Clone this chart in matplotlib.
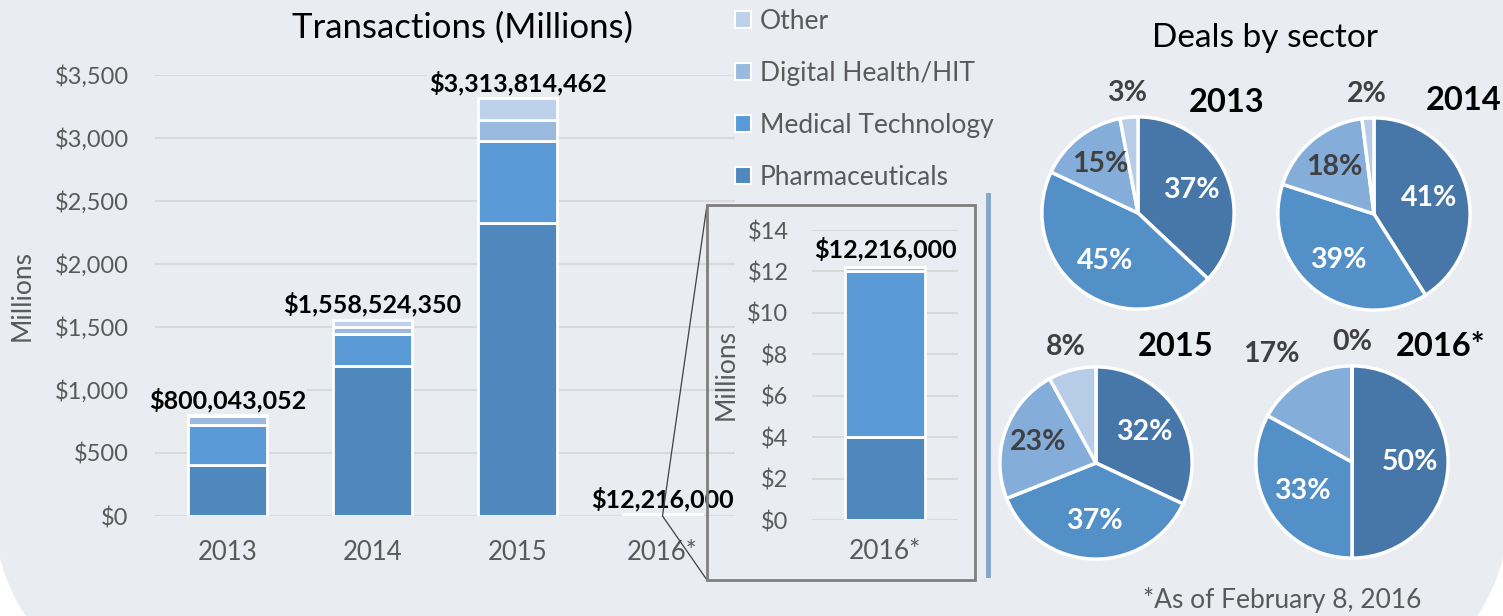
import numpy as np
import matplotlib
matplotlib.use('Agg')
import matplotlib.pyplot as plt
from matplotlib.patches import FancyBboxPatch, Rectangle, ConnectionPatch

plt.rcParams['font.family'] = ['Lato', 'DejaVu Sans']

# ----------------------------------------------------------------
# Data
# ----------------------------------------------------------------
years = ['2013', '2014', '2015', '2016*']
sectors = ['Pharmaceuticals', 'Medical Technology', 'Digital Health/HIT', 'Other']
# transaction value in $ millions, per sector
pharma = [405, 1190, 2325, 4.0]
medtech = [320, 258, 648, 8.0]
digital = [65, 55, 173, 0.216]
other = [10, 55.5, 167.8, 0.0]
totals = [800043052, 1558524350, 3313814462, 12216000]

# deals by sector (%) per year: pharma, medtech, digital, other
pie_years = ['2013', '2014', '2015', '2016*']
pie_2013 = [37, 45, 15, 3]
pie_2014 = [41, 39, 18, 2]
pie_2015 = [32, 37, 23, 8]
pie_2016 = [50, 33, 17, 0]

# ----------------------------------------------------------------
# Style
# ----------------------------------------------------------------
BG = '#E9ECF1'
GRID = '#D9D9D9'
TICK = '#595959'
BAR_COLORS = ['#4F88BD', '#5A9AD6', '#99B9DF', '#BDD1EB']
PIE_COLORS = ['#4677A8', '#5390C8', '#85ADDA', '#B7CCE6']

W, H = 1503, 616
fig = plt.figure(figsize=(W / 100, H / 100), dpi=100, facecolor='white')


def fx(px):
    return px / W


def fy(py):
    # py measured from the top of the image
    return 1 - py / H


# rounded background panel
bg = FancyBboxPatch((fx(-10), fy(694)), fx(1523), fy(-400) - fy(694),
                    boxstyle='round,pad=0,rounding_size=0.146',
                    transform=fig.transFigure, facecolor=BG, edgecolor='none',
                    mutation_aspect=W / H, zorder=-10)
fig.patches.append(bg)

# ----------------------------------------------------------------
# Main stacked bar
# ----------------------------------------------------------------
ax = fig.add_axes([fx(155), fy(516), fx(580), fy(75) - fy(516)])
ax.set_facecolor('none')
x = np.arange(len(years))
bottom = np.zeros(len(years))
for vals, col in zip([pharma, medtech, digital, other], BAR_COLORS):
    ax.bar(x, vals, 0.55, bottom=bottom, color=col, edgecolor='white', linewidth=2, zorder=3)
    bottom += np.array(vals)
ax.set_xlim(-0.5, 3.5)
ax.set_ylim(0, 3500)
ax.set_yticks(np.arange(0, 3501, 500))
ax.set_yticklabels([f'${v:,}' for v in range(0, 3501, 500)])
ax.set_xticks(x)
ax.set_xticklabels(years)
ax.tick_params(axis='both', length=0, colors=TICK)
ax.tick_params(axis='x', pad=17, labelsize=18.5)
ax.tick_params(axis='y', pad=19, labelsize=17)
ax.yaxis.grid(True, color=GRID, linewidth=1.5, zorder=0)
ax.set_axisbelow(True)
for s in ax.spines.values():
    s.set_visible(False)
ax.set_ylabel('Millions', color=TICK, fontsize=19)
ax.yaxis.set_label_coords(-0.207, 0.5)
for i, t in enumerate(totals):
    top = bottom[i]
    ax.annotate(f'${t:,}', (x[i], top), xytext=(0, 2), textcoords='offset points',
                ha='center', va='bottom', fontsize=18, fontweight='bold', color='black',
                zorder=6, annotation_clip=False,
                bbox=dict(boxstyle='square,pad=0.05', facecolor=BG, edgecolor='none'))
fig.text(fx(462), fy(28), 'Transactions (Millions)', ha='center', va='center',
         fontsize=25, color='black')

# ----------------------------------------------------------------
# Legend
# ----------------------------------------------------------------
leg_handles = [Rectangle((0, 0), 1, 1, facecolor=c, edgecolor='white', linewidth=1.5)
               for c in BAR_COLORS[::-1]]
fig.legend(leg_handles, sectors[::-1], loc='upper left', bbox_to_anchor=(fx(735), fy(9)),
           frameon=False, fontsize=19, labelcolor=TICK, handlelength=0.6, handleheight=0.6,
           handletextpad=0.35, labelspacing=1.02, borderpad=0, borderaxespad=0)

# ----------------------------------------------------------------
# Inset (2016 zoom)
# ----------------------------------------------------------------
ins = fig.add_axes([fx(812), fy(520), fx(146), fy(230) - fy(520)])
ins.set_facecolor('none')
b = 0.0
for vals, col in zip([pharma, medtech, digital, other], BAR_COLORS):
    ins.bar([0], [vals[3]], 0.55, bottom=b, color=col, edgecolor='white', linewidth=2, zorder=3)
    b += vals[3]
ins.set_xlim(-0.505, 0.5)
ins.set_ylim(0, 14)
ins.set_yticks(np.arange(0, 15, 2))
ins.set_yticklabels([f'${v}' for v in range(0, 15, 2)])
ins.set_xticks([0])
ins.set_xticklabels([years[3]])
ins.tick_params(axis='both', length=0, colors=TICK)
ins.tick_params(axis='x', pad=14, labelsize=19)
ins.tick_params(axis='y', pad=17, labelsize=17)
ins.yaxis.grid(True, color=GRID, linewidth=1.5, zorder=0)
ins.set_axisbelow(True)
for s in ins.spines.values():
    s.set_visible(False)
ins.set_ylabel('Millions', color=TICK, fontsize=19)
ins.yaxis.set_label_coords(-0.505, 0.5)
ins.annotate(f'${totals[3]:,}', (0, b), xytext=(0, 4), textcoords='offset points',
             ha='center', va='bottom', fontsize=18, fontweight='bold', color='black')

box = Rectangle((fx(707), fy(580)), fx(268), fy(205) - fy(580), transform=fig.transFigure,
                facecolor='none', edgecolor='#7F7F7F', linewidth=2, zorder=5)
fig.patches.append(box)
for corner in [(707, 205), (707, 580)]:
    con = ConnectionPatch(xyA=(3, 0), coordsA=ax.transData,
                          xyB=(fx(corner[0]), fy(corner[1])), coordsB=fig.transFigure,
                          color='#404040', linewidth=0.9, zorder=4)
    fig.add_artist(con)
# separator bar
fig.patches.append(Rectangle((fx(986), fy(578)), fx(5), fy(193) - fy(578),
                             transform=fig.transFigure, facecolor='#84A8C9',
                             edgecolor='none'))

# ----------------------------------------------------------------
# Pies
# ----------------------------------------------------------------
fig.text(fx(1265), fy(38), 'Deals by sector', ha='center', va='center', fontsize=24,
         color='black')
pie_data = [pie_2013, pie_2014, pie_2015, pie_2016]
centers = [(1138, 213), (1374, 214), (1096, 463), (1352, 462)]
year_pos = [(1227, 102), (1464, 100), (1176, 347), (1441, 347)]
R = 99
for vals, (cx, cy), yr, (tx, ty) in zip(pie_data, centers, pie_years, year_pos):
    pax = fig.add_axes([fx(cx - R), fy(cy + R), fx(2 * R), fy(cy - R) - fy(cy + R)])
    pax.pie(vals, colors=PIE_COLORS, startangle=90, counterclock=False,
            wedgeprops=dict(edgecolor='white', linewidth=2.5))
    pax.set_xlim(-1.03, 1.03)
    pax.set_ylim(-1.03, 1.03)
    pax.set_aspect('equal')
    total = float(sum(vals))
    ang = 90.0
    for k, v in enumerate(vals):
        mid = np.deg2rad(ang - 180 * v / total)
        ang -= 360 * v / total
        if k < 2:
            d, col = 0.6, 'white'
        elif k == 2 and yr != '2016*':
            d, col = 0.64, '#404040'
        elif k == 2:
            d, col = 1.4, '#404040'
            mid = np.deg2rad(np.rad2deg(mid) + 6)
        else:
            d, col = 1.25, '#404040'
        pax.text(d * np.cos(mid), d * np.sin(mid), f'{v}%', ha='center', va='center',
                 fontsize=20.5, fontweight='bold', color=col, clip_on=False)
    fig.text(fx(tx), fy(ty), yr, ha='center', va='center', fontsize=23.5,
             fontweight='bold', color='black')

fig.text(fx(1282), fy(600), '*As of February 8, 2016', ha='center', va='center',
         fontsize=19, color=TICK)

fig.savefig('out.png', dpi=100, facecolor='white')
